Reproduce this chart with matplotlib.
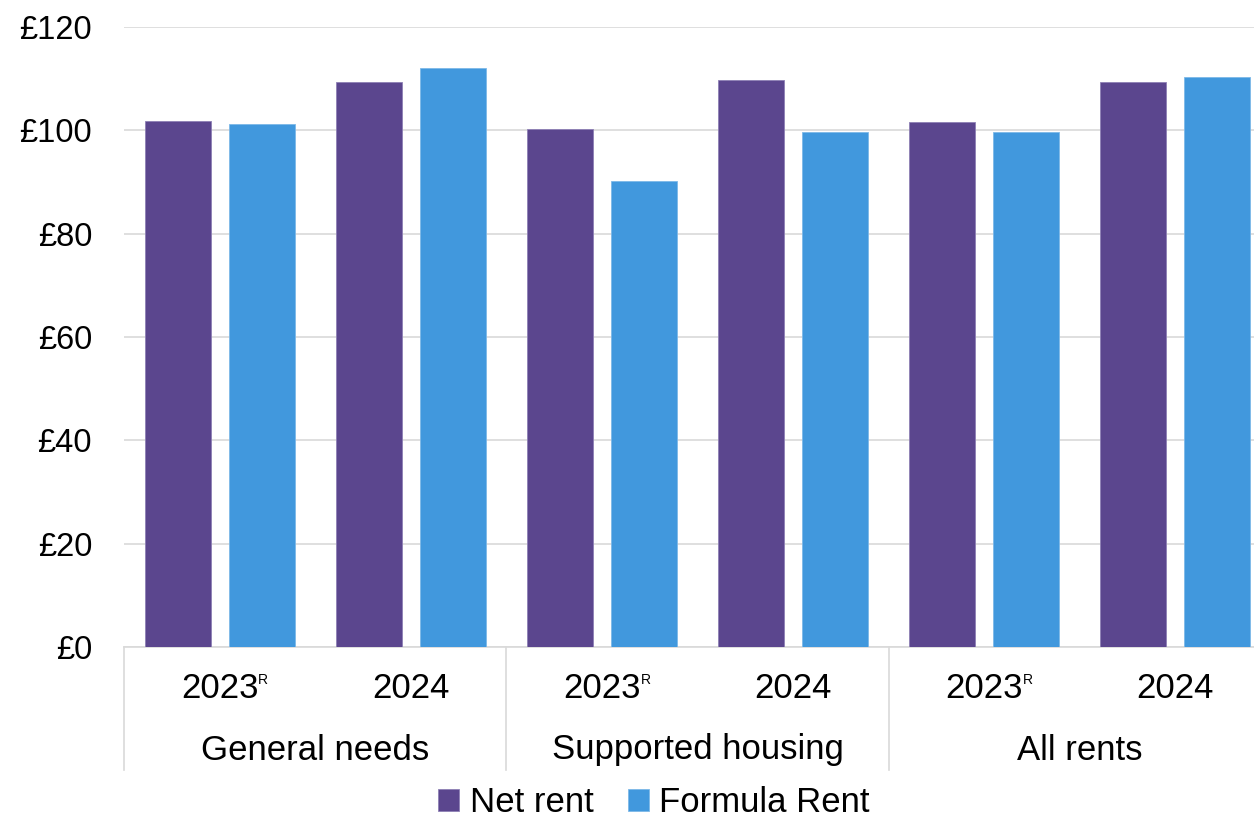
import matplotlib
matplotlib.use("Agg")
import matplotlib.pyplot as plt
from matplotlib.lines import Line2D
import numpy as np

plt.rcParams['font.family'] = ['Liberation Sans', 'DejaVu Sans']

groups = ["General needs", "Supported housing", "All rents"]
years = ["2023", "2024"]
revised = [True, False]
series = ["Net rent", "Formula Rent"]
net_rent = [101.9, 109.4, 100.3, 109.8, 101.7, 109.4]
formula_rent = [101.3, 112.0, 90.2, 99.7, 99.7, 110.3]
yticks = [0, 20, 40, 60, 80, 100, 120]

purple = "#5B468E"
blue = "#4198DD"
grid_c = "#D9D9D9"

W, H = 1254, 817
fig = plt.figure(figsize=(W / 100, H / 100), dpi=100)
ax_left, ax_right, ax_top, ax_bot = 124, 1271, 27, 647
ax = fig.add_axes([ax_left / W, 1 - ax_bot / H, (ax_right - ax_left) / W, (ax_bot - ax_top) / H])

x = np.arange(len(net_rent))
bw = 0.345
off = 0.22
ax.bar(x - off, net_rent, bw, color=purple, label=series[0], zorder=3,
       edgecolor="#8E80B5", linewidth=0.6)
ax.bar(x + off, formula_rent, bw, color=blue, label=series[1], zorder=3,
       edgecolor="#7DB8E8", linewidth=0.6)

ax.set_xlim(-0.5, len(x) - 0.5)
ax.set_ylim(0, 120)
ax.set_yticks(yticks)
ax.set_yticklabels([f"£{v}" for v in yticks], fontsize=23.5)
ax.tick_params(axis='y', length=0, pad=23)
ax.set_xticks([])
ax.yaxis.grid(True, color=grid_c, linewidth=1.2, zorder=0)
for s in ["top", "right", "left"]:
    ax.spines[s].set_visible(False)
ax.spines["bottom"].set_color(grid_c)
ax.spines["bottom"].set_linewidth(1.2)

trans = ax.get_xaxis_transform()
px = 1.0 / (ax_bot - ax_top)
year_y = -(688 - ax_bot) * px
grp_y = -(750 - ax_bot) * px
sep_bottom = -(770 - ax_bot) * px

for gi, g in enumerate(groups):
    for yi, yr in enumerate(years):
        xi = gi * len(years) + yi
        t = ax.text(xi, year_y, yr, transform=trans, ha="center", va="center",
                    fontsize=25, clip_on=False)
        if revised[yi]:
            ax.annotate("R", xy=(1, 1), xycoords=t, xytext=(0, -1),
                        textcoords="offset points", ha="left", va="top",
                        fontsize=10)
    cx = gi * len(years) + (len(years) - 1) / 2
    ax.text(cx, grp_y, g, transform=trans, ha="center", va="center",
            fontsize=25, clip_on=False)

for b in range(len(groups) + 1):
    xb = b * len(years) - 0.5
    ax.add_line(Line2D([xb, xb], [0, sep_bottom], transform=trans,
                       color=grid_c, linewidth=1.2, clip_on=False))

fig.legend(loc="center", bbox_to_anchor=(654 / W, 1 - 803 / H), ncol=2,
           frameon=False, fontsize=25, handlelength=0.6, handleheight=0.6,
           handletextpad=0.3, columnspacing=1.0, borderaxespad=0)

fig.savefig("out.png", dpi=100)
